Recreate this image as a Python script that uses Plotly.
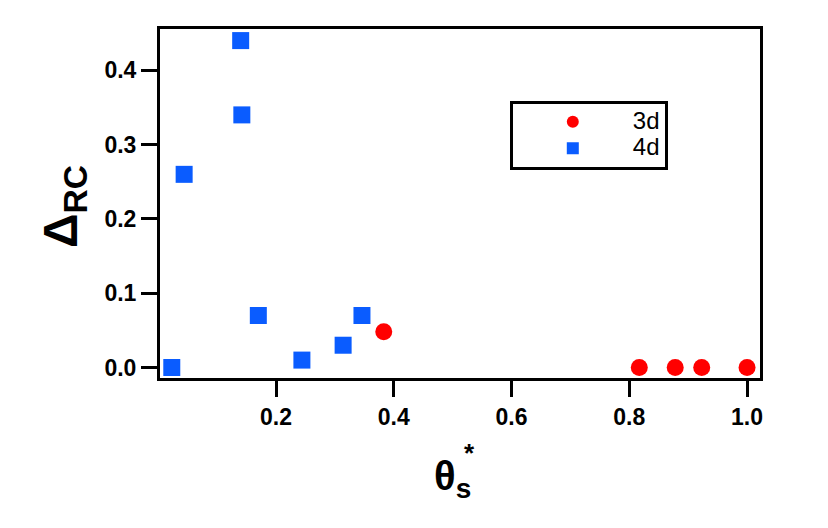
import plotly.graph_objects as go

# data
x_3d = [0.383, 0.817, 0.878, 0.923, 1.0]
y_3d = [0.048, 0.0, 0.0, 0.0, 0.0]

x_4d = [0.140, 0.142, 0.044, 0.170, 0.346, 0.314, 0.244, 0.023]
y_4d = [0.44, 0.34, 0.26, 0.07, 0.07, 0.03, 0.01, 0.0]

red = "#ff0000"
blue = "#0a5cff"
font = "Liberation Sans, Arial, sans-serif"

fig = go.Figure()
fig.add_trace(go.Scatter(x=x_3d, y=y_3d, mode="markers",
                         name="<span style='font-size:24px'>3d</span>",
                         marker=dict(symbol="circle", size=17, color=red)))
fig.add_trace(go.Scatter(x=x_4d, y=y_4d, mode="markers",
                         name="<span style='font-size:24px'>4d</span>",
                         marker=dict(symbol="square", size=17, color=blue)))

axis_style = dict(
    showline=True, linecolor="black", linewidth=3, mirror=True,
    ticks="outside", tickwidth=3, tickcolor="black", ticklen=16,
    showgrid=False, zeroline=False,
    tickfont=dict(family=font, size=23, color="black", weight="bold"),
    tickformat=".1f",
)

fig.update_xaxes(range=[0.003, 1.022], dtick=0.2, tick0=0, **axis_style)
fig.update_yaxes(range=[-0.0141, 0.4556], dtick=0.1, tick0=0, **axis_style)

# axis titles
fig.add_annotation(text="<b>θ<sub>s</sub></b>", xref="paper", yref="paper",
                   x=0.488, y=-0.29, xanchor="center", yanchor="middle",
                   showarrow=False, font=dict(family=font, size=40, color="black"))
fig.add_annotation(text="<b>*</b>", xref="paper", yref="paper",
                   x=0.515, y=-0.215, xanchor="center", yanchor="middle",
                   showarrow=False, font=dict(family=font, size=26, color="black"))
fig.add_annotation(text="<b>Δ<sub>RC</sub></b>", xref="paper", yref="paper",
                   x=-0.16, y=0.49, xanchor="center", yanchor="middle",
                   textangle=-90, showarrow=False,
                   font=dict(family=font, size=48, color="black"))

# page body has an 8px margin, so the figure is 8px smaller on each axis
fig.update_layout(
    width=820, height=520,
    margin=dict(l=152, r=68, t=21, b=150),
    plot_bgcolor="white", paper_bgcolor="white",
    font=dict(family=font, color="black"),
    showlegend=True,
    legend=dict(x=0.583, y=0.795, xanchor="left", yanchor="top",
                bordercolor="black", borderwidth=3, bgcolor="white",
                font=dict(family=font, size=18, color="black"),
                itemsizing="constant", itemwidth=110),
)

fig.write_html("out.html")
